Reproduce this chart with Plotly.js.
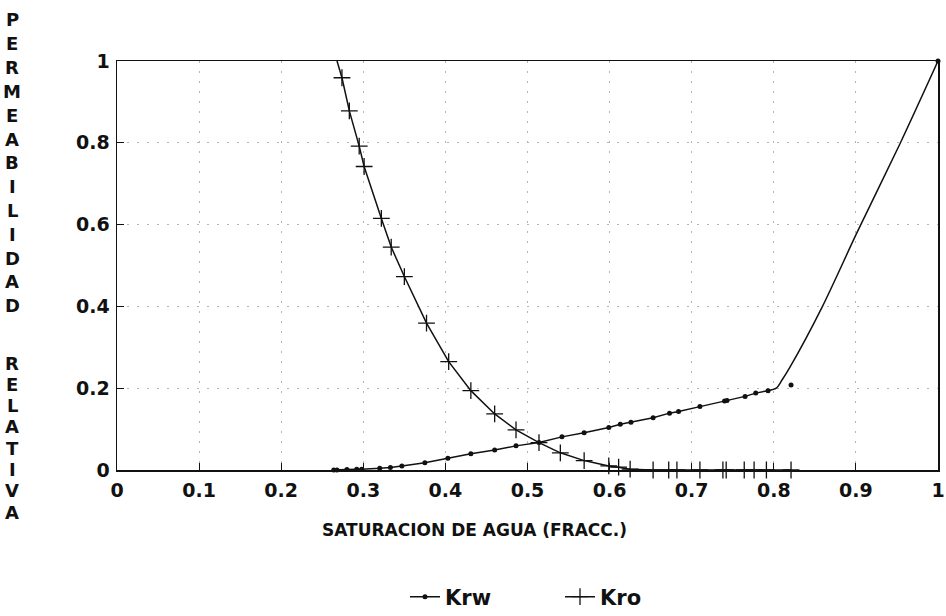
<!DOCTYPE html>
<html>
<head>
<meta charset="utf-8">
<script src="https://cdn.plot.ly/plotly-3.0.1.min.js"></script>
<style>
html,body{margin:0;padding:0;background:#fff;}
#chart{width:946px;height:616px;}
</style>
</head>
<body>
<div id="chart"></div>
<script>
// ---- data ----
const krwSw = [0.264, 0.268, 0.280, 0.292, 0.298, 0.320, 0.333, 0.347, 0.375, 0.403, 0.431, 0.460, 0.486, 0.514, 0.542, 0.569, 0.599, 0.613, 0.626, 0.653, 0.673, 0.684, 0.710, 0.740, 0.743, 0.765, 0.778, 0.793];
const krwKr = [0.000, 0.000, 0.001, 0.002, 0.002, 0.004, 0.006, 0.010, 0.018, 0.029, 0.040, 0.049, 0.059, 0.067, 0.081, 0.091, 0.104, 0.112, 0.117, 0.128, 0.139, 0.143, 0.155, 0.169, 0.170, 0.180, 0.188, 0.194];
const krwCurveSw = [0.793, 0.803, 0.810, 0.819, 0.859, 0.901, 0.954, 1.000];
const krwCurveKr = [0.194, 0.200, 0.220, 0.249, 0.399, 0.579, 0.799, 1.000];
const krwExtraSw = [0.821, 1.000];
const krwExtraKr = [0.208, 1.000];

const kroTopSw = [0.268, 0.274];
const kroTopKr = [1.000, 0.959];
const kroSw = [0.274, 0.283, 0.295, 0.301, 0.322, 0.334, 0.350, 0.377, 0.404, 0.431, 0.460, 0.486, 0.514, 0.540, 0.569, 0.599, 0.611, 0.625, 0.653, 0.672, 0.682, 0.710, 0.738, 0.742, 0.764, 0.776, 0.791, 0.821];
const kroKr = [0.959, 0.878, 0.792, 0.742, 0.615, 0.545, 0.473, 0.359, 0.265, 0.194, 0.137, 0.098, 0.067, 0.042, 0.023, 0.010, 0.007, 0.002, 0.000, 0.000, 0.000, 0.000, 0.000, 0.000, 0.000, 0.000, 0.000, 0.000];

const xTicks = [0, 0.1, 0.2, 0.3, 0.4, 0.5, 0.6, 0.7, 0.8, 0.9, 1];
const xTickText = ['0', '0.1', '0.2', '0.3', '0.4', '0.5', '0.6', '0.7', '0.8', '0.9', '1'];
const yTicks = [0, 0.2, 0.4, 0.6, 0.8, 1];
const yTickText = ['0', '0.2', '0.4', '0.6', '0.8', '1'];

const xTitle = 'SATURACION DE AGUA (FRACC.)';
const yTitleWords = ['PERMEABILIDAD', 'RELATIVA'];

// ---- layout helpers ----
const W = 946, H = 616;
const M = {l: 117, r: 8, t: 61, b: 146, autoexpand: false};
const plotH = H - M.t - M.b;
const plotW = W - M.l - M.r;
const pyToPaper = py => (H - M.b - py) / plotH;
const pxToPaper = px => (px - M.l) / plotW;

const FONT = 'DejaVu Sans, Liberation Sans, Arial, sans-serif';
const INK = '#111';

const traces = [
  {x: kroTopSw, y: kroTopKr, mode: 'lines', line: {color: INK, width: 1.5}, showlegend: false, hoverinfo: 'skip', cliponaxis: false},
  {x: krwCurveSw, y: krwCurveKr, mode: 'lines', line: {color: INK, width: 1.5, shape: 'spline', smoothing: 0.8}, showlegend: false, hoverinfo: 'skip'},
  {x: krwExtraSw, y: krwExtraKr, mode: 'markers', marker: {symbol: 'circle', size: 5, color: INK}, showlegend: false, hoverinfo: 'skip', cliponaxis: false},
  {x: krwSw, y: krwKr, name: 'Krw', mode: 'lines+markers', line: {color: INK, width: 1.5},
   marker: {symbol: 'circle', size: 5, color: INK}, cliponaxis: false},
  {x: kroSw, y: kroKr, name: 'Kro', mode: 'lines+markers', line: {color: INK, width: 1.5},
   marker: {symbol: 'cross-thin', size: 12, color: INK, line: {color: INK, width: 1.3}}, cliponaxis: false}
];

const annotations = [];
const letterFont = {family: FONT, size: 18, color: INK, weight: 'bold'};
yTitleWords[0].split('').forEach((ch, i) => {
  annotations.push({text: ch, xref: 'paper', yref: 'paper', x: pxToPaper(12), y: pyToPaper(20 + i * 23.8),
    xanchor: 'center', yanchor: 'middle', showarrow: false, font: letterFont});
});
yTitleWords[1].split('').forEach((ch, i) => {
  annotations.push({text: ch, xref: 'paper', yref: 'paper', x: pxToPaper(12), y: pyToPaper(363 + i * 21.3),
    xanchor: 'center', yanchor: 'middle', showarrow: false, font: letterFont});
});
annotations.push({text: xTitle, xref: 'paper', yref: 'paper', x: pxToPaper(474), y: pyToPaper(530),
  xanchor: 'center', yanchor: 'middle', showarrow: false,
  font: {family: FONT, size: 17, color: INK, weight: 'bold'}});

const tickFont = {family: FONT, size: 19, weight: 'bold', color: INK};
const axisCommon = {
  range: [0, 1],
  showline: true, mirror: true, linecolor: INK, linewidth: 1.5,
  ticks: 'inside', ticklen: 7, tickcolor: INK, tickwidth: 1,
  showgrid: true, gridcolor: '#b5b5b5', griddash: '2px,8px', gridwidth: 1,
  zeroline: false, tickfont: tickFont, ticklabeloverflow: 'allow', automargin: false
};

const layout = {
  width: W, height: H,
  margin: M,
  paper_bgcolor: '#fff', plot_bgcolor: '#fff',
  font: {family: FONT, color: INK, weight: 'bold', size: 17},
  xaxis: Object.assign({}, axisCommon, {tickvals: xTicks, ticktext: xTickText, ticklabelstandoff: 3}),
  yaxis: Object.assign({}, axisCommon, {tickvals: yTicks, ticktext: yTickText, ticklabelstandoff: 2}),
  showlegend: true,
  legend: {orientation: 'h', x: pxToPaper(560), xanchor: 'center', y: pyToPaper(597), yanchor: 'middle',
    font: {family: FONT, size: 21, weight: 'bold', color: INK},
    entrywidth: 110, entrywidthmode: 'pixels', traceorder: 'normal'},
  annotations: annotations
};

Plotly.newPlot('chart', traces, layout, {displayModeBar: false, staticPlot: true});
</script>
</body>
</html>
